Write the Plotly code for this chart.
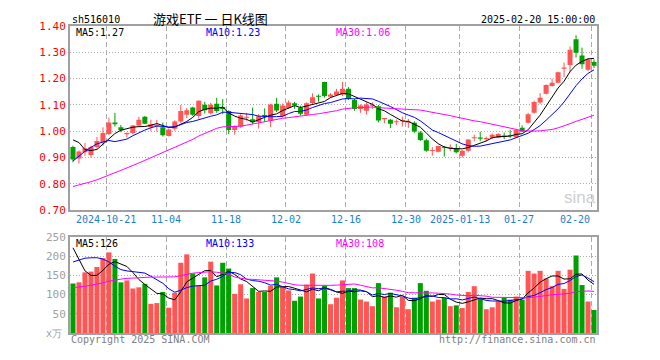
import plotly.graph_objects as go
import pandas as pd

# ---------------- data ----------------
opens = [0.940, 0.896, 0.920, 0.910, 0.940, 0.958, 0.990, 1.033, 1.015, 0.989,
         0.993, 1.022, 1.055, 1.015, 1.020, 1.015, 0.982, 1.010, 1.037, 1.063,
         1.090, 1.058, 1.101, 1.068, 1.105, 1.092, 1.077, 1.005, 1.017, 1.051,
         1.046, 1.035, 1.062, 1.040, 1.105, 1.057, 1.088, 1.106, 1.089, 1.063,
         1.107, 1.134, 1.187, 1.131, 1.138, 1.140, 1.162, 1.119, 1.085, 1.078,
         1.097, 1.095, 1.046, 1.044, 1.034, 1.038, 1.033, 1.032, 0.995, 0.966,
         0.925, 0.922, 0.940, 0.936, 0.935, 0.907, 0.926, 0.973, 0.974, 0.970,
         0.975, 0.975, 0.984, 0.984, 0.977, 1.013, 1.032, 1.070, 1.109, 1.143,
         1.172, 1.184, 1.238, 1.252, 1.350, 1.288, 1.234, 1.263]
highs = [0.945, 0.927, 0.956, 0.945, 0.978, 1.015, 1.052, 1.070, 1.024, 0.996,
         1.024, 1.055, 1.058, 1.044, 1.043, 1.033, 1.011, 1.042, 1.100, 1.088,
         1.093, 1.117, 1.112, 1.108, 1.127, 1.122, 1.080, 1.022, 1.065, 1.070,
         1.090, 1.065, 1.087, 1.104, 1.127, 1.105, 1.117, 1.112, 1.097, 1.110,
         1.144, 1.140, 1.188, 1.145, 1.161, 1.187, 1.168, 1.124, 1.102, 1.109,
         1.110, 1.100, 1.047, 1.047, 1.045, 1.056, 1.047, 1.038, 1.001, 0.972,
         0.940, 0.945, 0.944, 0.950, 0.952, 0.929, 0.970, 0.987, 0.998, 0.980,
         0.992, 0.993, 0.995, 1.005, 1.009, 1.022, 1.070, 1.116, 1.145, 1.178,
         1.200, 1.226, 1.261, 1.322, 1.365, 1.318, 1.278, 1.273]
lows = [0.882, 0.878, 0.907, 0.900, 0.934, 0.945, 0.985, 1.018, 0.996, 0.976,
        0.988, 1.018, 1.027, 1.000, 0.998, 0.980, 0.980, 1.002, 1.030, 1.050,
        1.058, 1.048, 1.067, 1.064, 1.070, 1.065, 0.990, 0.987, 1.013, 1.040,
        1.027, 1.010, 1.036, 1.016, 1.073, 1.052, 1.085, 1.085, 1.060, 1.060,
        1.103, 1.112, 1.128, 1.127, 1.134, 1.134, 1.119, 1.078, 1.070, 1.063,
        1.085, 1.034, 1.030, 1.012, 1.024, 1.018, 1.013, 0.994, 0.963, 0.922,
        0.907, 0.920, 0.904, 0.925, 0.916, 0.900, 0.920, 0.962, 0.962, 0.962,
        0.970, 0.973, 0.970, 0.975, 0.974, 0.997, 1.030, 1.067, 1.103, 1.140,
        1.170, 1.182, 1.206, 1.224, 1.280, 1.237, 1.228, 1.240]
closes = [0.893, 0.923, 0.935, 0.940, 0.963, 0.993, 1.033, 1.027, 1.004, 0.991,
          1.022, 1.044, 1.029, 1.027, 1.024, 0.985, 1.007, 1.037, 1.077, 1.080,
          1.063, 1.116, 1.080, 1.101, 1.077, 1.085, 1.005, 1.020, 1.060, 1.055,
          1.034, 1.057, 1.058, 1.102, 1.079, 1.098, 1.109, 1.098, 1.067, 1.106,
          1.129, 1.131, 1.134, 1.140, 1.151, 1.162, 1.124, 1.085, 1.098, 1.102,
          1.101, 1.041, 1.047, 1.029, 1.036, 1.040, 1.035, 0.999, 0.967, 0.926,
          0.927, 0.944, 0.937, 0.939, 0.920, 0.926, 0.969, 0.975, 0.972, 0.973,
          0.987, 0.990, 0.978, 0.981, 1.005, 0.999, 1.065, 1.111, 1.127, 1.176,
          1.184, 1.224, 1.240, 1.310, 1.298, 1.255, 1.273, 1.249]
volumes = [129, 132, 158, 160, 172, 195, 210, 193, 132, 137,
           116, 119, 128, 76, 78, 107, 66, 105, 183, 205,
           155, 124, 145, 186, 124, 183, 168, 102, 127, 90,
           117, 107, 107, 123, 145, 120, 111, 84, 95, 126,
           155, 90, 123, 75, 92, 137, 117, 117, 87, 82,
           70, 130, 95, 105, 67, 95, 62, 92, 130, 110,
           82, 87, 92, 70, 72, 65, 107, 122, 90, 62,
           67, 82, 92, 87, 95, 87, 162, 155, 162, 142,
           122, 162, 115, 165, 202, 125, 82, 60]

# sessions before the visible window (needed for the moving averages)
prior_closes = [0.755, 0.750, 0.748, 0.745, 0.752, 0.748, 0.742, 0.738, 0.735, 0.740,
                0.738, 0.732, 0.728, 0.730, 0.735, 0.738, 0.742, 0.745, 0.740, 0.749,
                0.730, 0.760, 0.790, 0.830, 0.925, 0.973, 1.070, 0.955, 0.944]
prior_volumes = [90, 85, 80, 88, 92, 86, 80, 78, 82, 85,
                 88, 84, 80, 78, 82, 86, 90, 88, 84, 84,
                 80, 110, 150, 170, 230, 282, 308, 220, 171]

date_labels = ["2024-10-21", "11-04", "11-18", "12-02", "12-16",
               "12-30", "2025-01-13", "01-27", "02-20"]
date_label_idx = [6, 16, 26, 36, 46, 56, 65, 75, 87]
price_ticks = [0.70, 0.80, 0.90, 1.00, 1.10, 1.20, 1.30, 1.40]
volume_ticks = [50, 100, 150, 200, 250]

title_code = "sh516010"
title_name = "游戏ETF 一 日K线图"
title_time = "2025-02-20 15:00:00"
price_ma_text = ["MA5:1.27", "MA10:1.23", "MA30:1.06"]
vol_ma_text = ["MA5:126", "MA10:133", "MA30:108"]

# ---------------- styling ----------------
RED = "#FF5555"
GREEN = "#00A000"
MA_COLORS = ["#000000", "#0000FF", "#FF00FF"]
GRID = "#AAAAAA"
AXIS = "#A0A0A0"
MONO = "DejaVu Sans Mono"

# the page body has an 8px margin; figure is placed at (8, 8)
OFF = 8
W, H = 644, 344
L, R, T, B = 70, 597, 20, 340   # plot area in page pixels


def px2x(px):
    return (px - L) / (R - L)


def py2y(py):
    return (B - py) / (B - T)


n = len(closes)
idx = list(range(n))
up = [c >= o for o, c in zip(opens, closes)]

full_c = pd.Series(prior_closes + closes)
full_v = pd.Series(prior_volumes + volumes)
price_mas = [full_c.rolling(k).mean().iloc[-n:].tolist() for k in (5, 10, 30)]
vol_mas = [full_v.rolling(k).mean().iloc[-n:].tolist() for k in (5, 10, 30)]

fig = go.Figure()

# wicks
for flag, col in ((True, RED), (False, GREEN)):
    xs, ys = [], []
    for i in idx:
        if up[i] == flag:
            xs += [i, i, None]
            ys += [lows[i], highs[i], None]
    fig.add_trace(go.Scatter(x=xs, y=ys, mode="lines", line=dict(color=col, width=1),
                             xaxis="x", yaxis="y", hoverinfo="skip", showlegend=False))

# bodies
for flag, col in ((True, RED), (False, GREEN)):
    sel = [i for i in idx if up[i] == flag]
    fig.add_trace(go.Bar(
        x=sel,
        base=[min(opens[i], closes[i]) for i in sel],
        y=[max(abs(closes[i] - opens[i]), 0.004) for i in sel],
        width=0.84, marker=dict(color=col, line=dict(width=0)),
        xaxis="x", yaxis="y", showlegend=False, hoverinfo="skip"))

# price MAs
for ma, col in zip(price_mas, MA_COLORS):
    fig.add_trace(go.Scatter(x=idx, y=ma, mode="lines", line=dict(color=col, width=1),
                             xaxis="x", yaxis="y", showlegend=False, hoverinfo="skip"))

# volume bars
for flag, col in ((True, RED), (False, GREEN)):
    sel = [i for i in idx if up[i] == flag]
    fig.add_trace(go.Bar(x=sel, y=[volumes[i] for i in sel], width=0.84,
                         marker=dict(color=col, line=dict(width=0)),
                         xaxis="x2", yaxis="y2", showlegend=False, hoverinfo="skip"))

for ma, col in zip(vol_mas, MA_COLORS):
    fig.add_trace(go.Scatter(x=idx, y=ma, mode="lines", line=dict(color=col, width=1),
                             xaxis="x2", yaxis="y2", showlegend=False, hoverinfo="skip"))

grid_x = [i - 0.45 for i in date_label_idx]
xcommon = dict(range=[-0.5, n - 0.5], tickvals=grid_x, showticklabels=False,
               showgrid=True, gridcolor=GRID, griddash="5px,3px", gridwidth=1,
               showline=True, linecolor=AXIS, linewidth=2, mirror=True,
               zeroline=False, ticks="", fixedrange=True)

ann = []


def text(s, px, py, color="#000000", size=10, anchor="left", family=MONO):
    ann.append(dict(text=s, x=px2x(px), y=py2y(py), xref="paper", yref="paper",
                    xanchor=anchor, yanchor="middle", showarrow=False,
                    font=dict(family=family, size=size, color=color)))


text(title_code, 70, 13, size=10)
text(title_name, 210, 12, size=13, anchor="center", family="Noto Sans CJK SC")
text(title_time, 597, 13, size=10, anchor="right")
for s, x0, col in zip(price_ma_text, (74, 204, 334), MA_COLORS):
    text(s, x0, 27, color=col, size=10)
for s, x0, col in zip(vol_ma_text, (74, 204, 334), MA_COLORS):
    text(s, x0, 247, color=col, size=10)
for lab, i in zip(date_labels, date_label_idx):
    gx = L + (R - L) * (i - 0.45 + 0.5) / n
    if i == date_label_idx[-1]:
        text(lab, 592, 221.5, color="#1A7FD0", size=10, anchor="right")
    else:
        text(lab, gx, 221.5, color="#1A7FD0", size=10, anchor="center")
text("x万", 64, 340, color="#A0A0A0", size=10, anchor="right")
text("Copyright 2025 SINA.COM", 69, 346.5, color="#808080", size=10)
text("http://finance.sina.com.cn", 598, 346.5, color="#808080", size=10, anchor="right")
text("sina", 580, 199, color="#CFCFCF", size=17, anchor="center",
     family="Liberation Sans")

fig.update_layout(
    width=W, height=H,
    margin=dict(l=L - OFF, r=(W + OFF) - R, t=T - OFF, b=(H + OFF) - B),
    paper_bgcolor="white", plot_bgcolor="white",
    barmode="overlay", showlegend=False, hovermode=False,
    xaxis=dict(anchor="y", **xcommon),
    xaxis2=dict(anchor="y2", matches="x", **xcommon),
    yaxis=dict(domain=[py2y(212), 1.0], range=[0.70, 1.40], tickvals=price_ticks,
               ticktext=[f"{v:.2f}" for v in price_ticks],
               tickfont=dict(family=MONO, size=11, color="#FF0000"),
               showgrid=True, gridcolor=GRID, griddash="1px,2px", gridwidth=1,
               showline=True, linecolor=AXIS, linewidth=2, mirror=True,
               zeroline=False, ticks="", fixedrange=True),
    yaxis2=dict(domain=[0, py2y(240)], range=[0, 250], tickvals=volume_ticks,
                ticktext=[str(v) for v in volume_ticks],
                tickfont=dict(family=MONO, size=11, color="#A0A0A0"),
                showgrid=True, gridcolor=GRID, griddash="1px,2px", gridwidth=1,
                showline=True, linecolor=AXIS, linewidth=2, mirror=True,
                zeroline=False, ticks="", fixedrange=True),
    annotations=ann,
)

fig.write_html("out.html", config={"displayModeBar": False, "staticPlot": True})
